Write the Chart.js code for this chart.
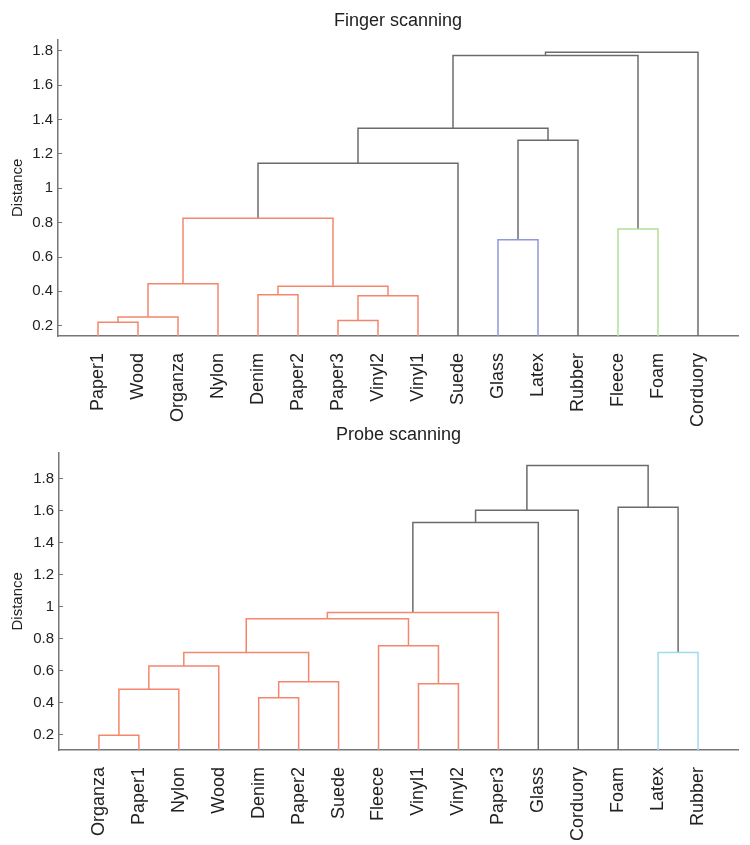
<!DOCTYPE html>
<html>

<head>
    <meta charset="UTF-8">
    <title>Finger and probe scanning dendrograms</title>
    <script src="https://cdn.jsdelivr.net/npm/chart.js"></script>
    <style>
        body {
            margin: 0;
            background: white;
        }

        canvas {
            position: absolute;
            left: 0;
        }
    </style>
</head>

<body>
    <canvas id="fingerChart" width="750" height="440" style="top: 0px;"></canvas>
    <canvas id="probeChart" width="750" height="445" style="top: 400px;"></canvas>
    <script>
        // leaves in display order (x = 1..16); merges use leaf numbers 1..16 and node numbers 17.. (16 + merge number)
        const fingerLeaves = ['Paper1', 'Wood', 'Organza', 'Nylon', 'Denim', 'Paper2', 'Paper3', 'Vinyl2', 'Vinyl1', 'Suede', 'Glass', 'Latex', 'Rubber', 'Fleece', 'Foam', 'Corduory'];
        const fingerLeft = [1, 17, 18, 5, 7, 21, 20, 19, 24, 11, 26, 25, 14, 28, 30];
        const fingerRight = [2, 3, 4, 6, 8, 9, 22, 23, 10, 12, 13, 27, 15, 29, 16];
        const fingerHeight = [0.22, 0.25, 0.444, 0.38, 0.23, 0.375, 0.43, 0.825, 1.146, 0.70, 1.28, 1.35, 0.763, 1.773, 1.792];
        const fingerGroup = ['o', 'o', 'o', 'o', 'o', 'o', 'o', 'o', 'k', 'b', 'k', 'k', 'g', 'k', 'k'];

        const probeLeaves = ['Organza', 'Paper1', 'Nylon', 'Wood', 'Denim', 'Paper2', 'Suede', 'Fleece', 'Vinyl1', 'Vinyl2', 'Paper3', 'Glass', 'Corduory', 'Foam', 'Latex', 'Rubber'];
        const probeLeft = [1, 17, 18, 5, 20, 19, 9, 8, 22, 25, 26, 27, 15, 14, 28];
        const probeRight = [2, 3, 4, 6, 7, 21, 10, 23, 24, 11, 12, 13, 16, 29, 30];
        const probeHeight = [0.198, 0.485, 0.631, 0.433, 0.533, 0.716, 0.52, 0.758, 0.926, 0.966, 1.528, 1.605, 0.716, 1.623, 1.885];
        const probeGroup = ['o', 'o', 'o', 'o', 'o', 'o', 'o', 'o', 'o', 'o', 'k', 'k', 'c', 'k', 'k'];

        const colors = {
            o: '#f4866b',
            k: '#6b6b6b',
            b: '#8f97dd',
            g: '#b4dd9c',
            c: '#9fdbea'
        };

        Chart.defaults.font.family = "'Liberation Sans', Arial, sans-serif";
        Chart.defaults.color = '#222';

        function buildLinks(leaves, left, right, height, group, yMin) {
            let n = leaves.length;
            let pos = {};
            let top = {};
            for (let i = 1; i <= n; i++) {
                pos[i] = i;
                top[i] = yMin;
            }
            let sets = [];
            for (let k = 0; k < left.length; k++) {
                let a = left[k], b = right[k], h = height[k];
                sets.push({
                    data: [
                        { x: pos[a], y: top[a] },
                        { x: pos[a], y: h },
                        { x: pos[b], y: h },
                        { x: pos[b], y: top[b] }
                    ],
                    borderColor: colors[group[k]],
                    borderWidth: 1.5,
                    showLine: true,
                    pointRadius: 0,
                    fill: false
                });
                pos[n + k + 1] = (pos[a] + pos[b]) / 2;
                top[n + k + 1] = h;
            }
            return sets;
        }

        function makeChart(id, title, leaves, left, right, height, group, yMin, yMax, opts) {
            return new Chart(document.getElementById(id), {
                type: 'scatter',
                data: { datasets: buildLinks(leaves, left, right, height, group, yMin) },
                options: {
                    responsive: false,
                    animation: false,
                    layout: { padding: { left: 0, right: 12, top: 0, bottom: 0 } },
                    plugins: {
                        legend: { display: false },
                        tooltip: { enabled: false },
                        title: {
                            display: true,
                            text: title,
                            fullSize: false,
                            color: '#222',
                            font: { size: 18, weight: 'normal' },
                            padding: opts.titlePadding
                        }
                    },
                    scales: {
                        x: {
                            type: 'linear',
                            min: 0,
                            max: 17,
                            border: { display: true, color: '#777', width: 1.5 },
                            grid: { display: true, drawOnChartArea: false, drawTicks: false },
                            ticks: {
                                stepSize: 1,
                                autoSkip: false,
                                minRotation: 90,
                                maxRotation: 90,
                                padding: 17,
                                color: '#222',
                                font: { size: 18 },
                                callback: (v) => leaves[v - 1] || ''
                            },
                            afterFit: (scale) => {
                                scale.height = opts.xHeight;
                                scale.paddingLeft = 0;
                                scale.paddingRight = 0;
                            }
                        },
                        y: {
                            min: yMin,
                            max: yMax,
                            border: { display: true, color: '#777', width: 1.5 },
                            grid: { display: true, drawOnChartArea: false, drawTicks: true, tickLength: -4, color: '#777' },
                            ticks: {
                                stepSize: 0.2,
                                includeBounds: false,
                                padding: 9,
                                color: '#222',
                                font: { size: 15 },
                                callback: (v) => +v.toFixed(1)
                            },
                            title: {
                                display: true,
                                text: 'Distance',
                                color: '#222',
                                font: { size: 15 },
                                padding: { top: 9, bottom: 0 }
                            },
                            afterFit: (scale) => { scale.width = opts.yWidth; }
                        }
                    }
                }
            });
        }

        makeChart('fingerChart', 'Finger scanning', fingerLeaves, fingerLeft, fingerRight, fingerHeight, fingerGroup, 0.14, 1.866,
            { titlePadding: { top: 10, bottom: 8 }, xHeight: 104, yWidth: 58 });
        makeChart('probeChart', 'Probe scanning', probeLeaves, probeLeft, probeRight, probeHeight, probeGroup, 0.106, 1.965,
            { titlePadding: { top: 24, bottom: 7 }, xHeight: 95, yWidth: 59 });
    </script>
</body>

</html>
